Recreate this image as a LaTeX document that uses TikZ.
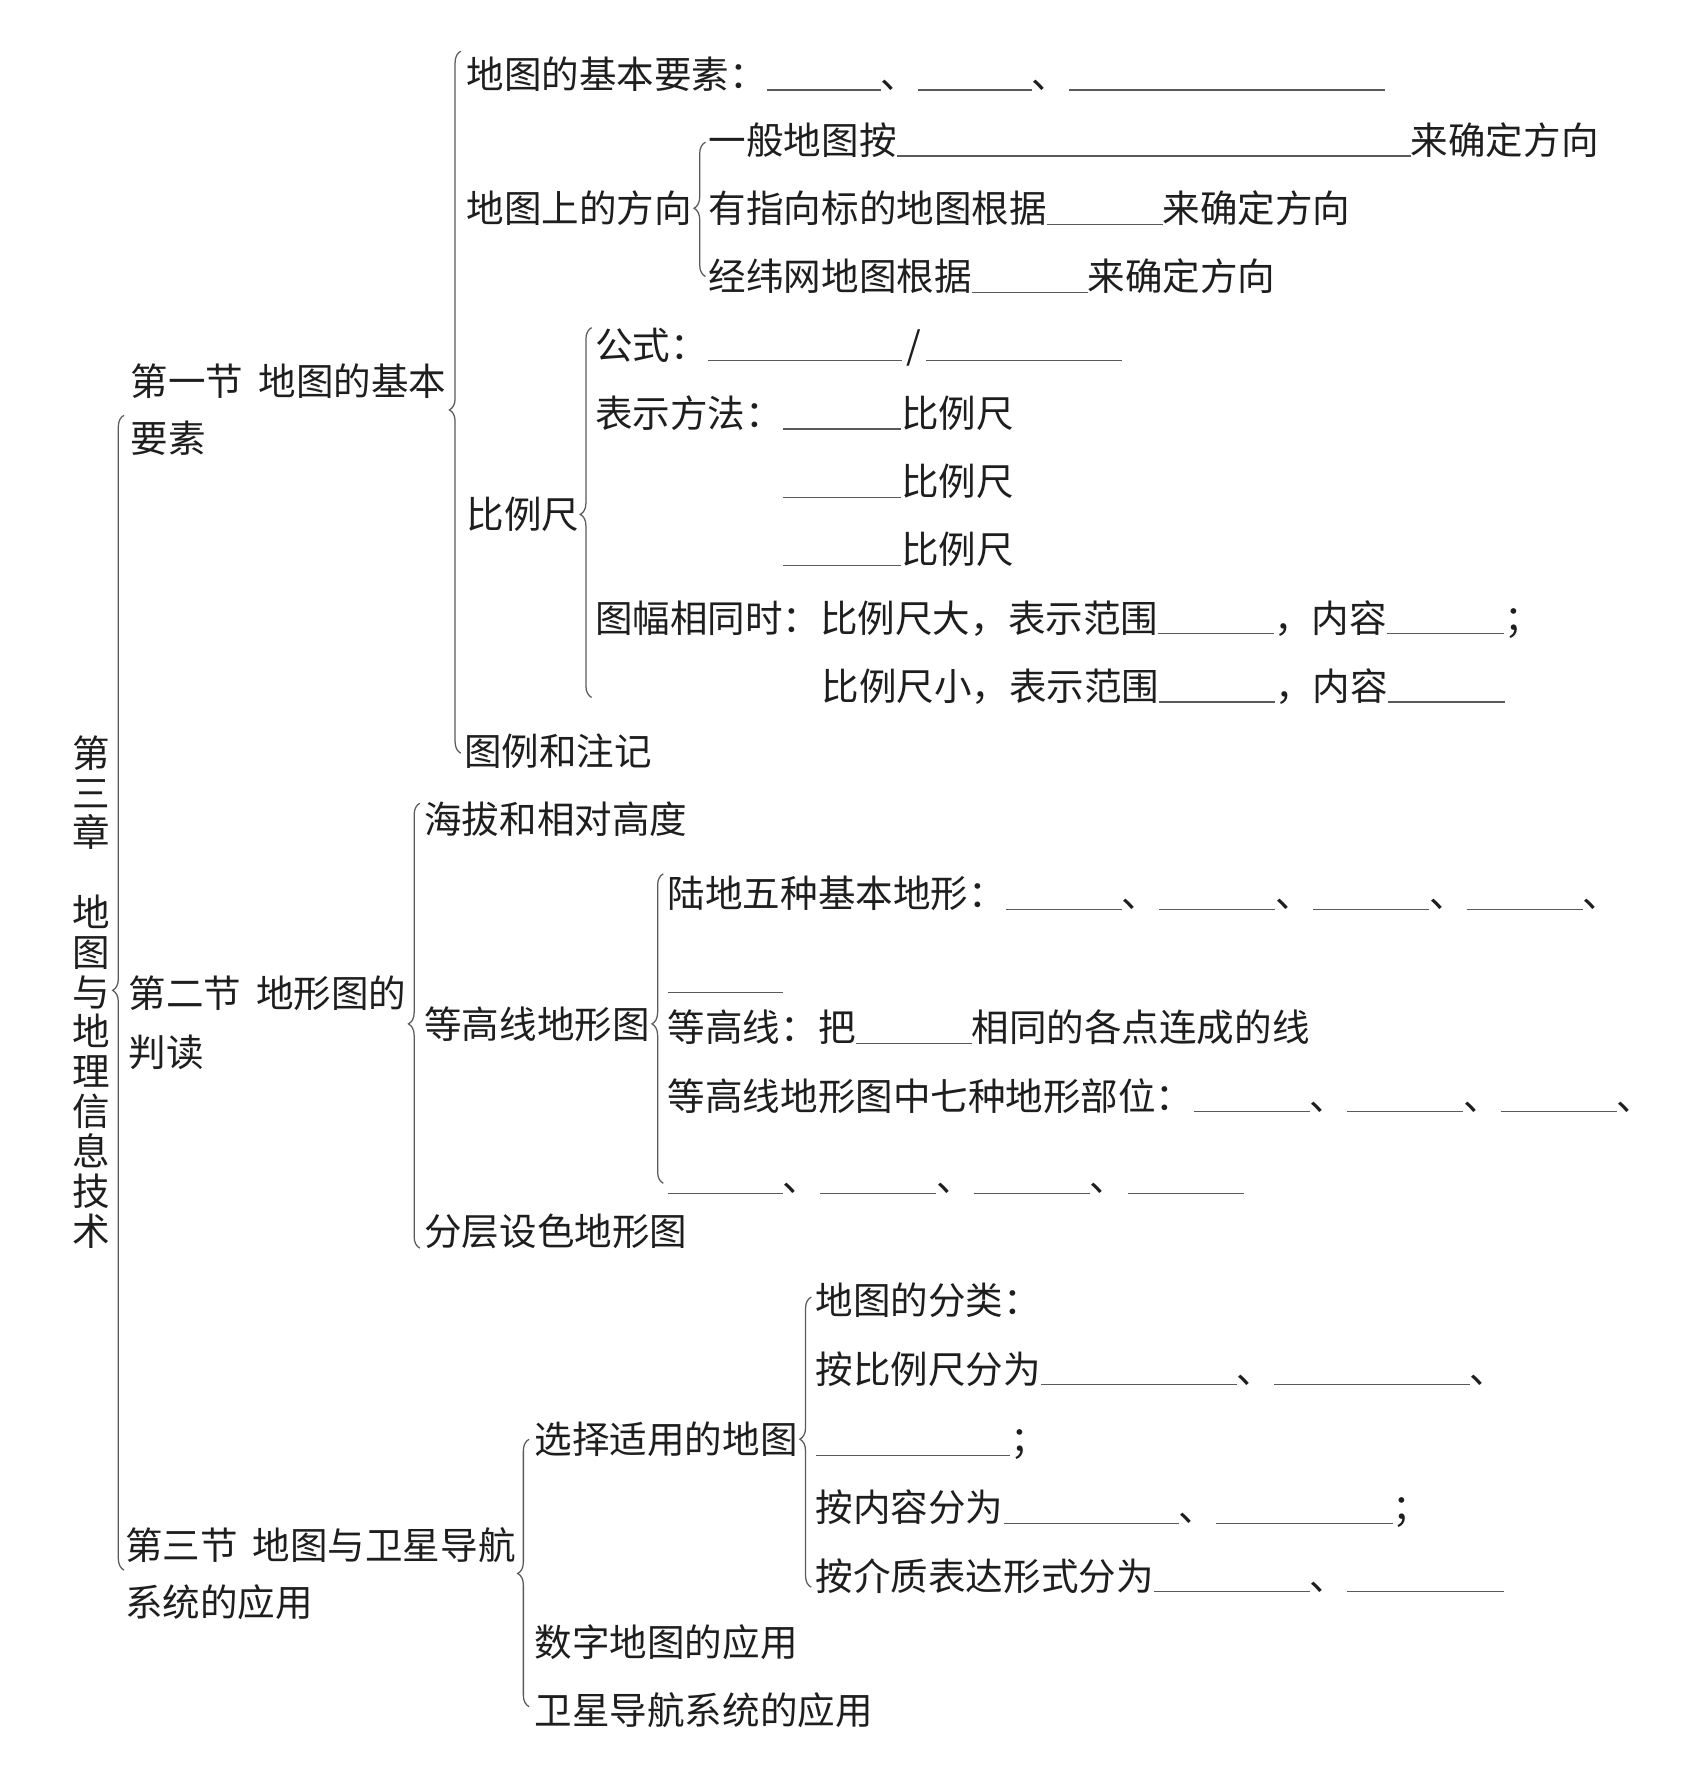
\documentclass[tikz,border=0pt]{standalone}
\usepackage{fontspec}
\setmainfont{Noto Sans CJK SC}
\usetikzlibrary{decorations.pathreplacing}
\definecolor{ink}{HTML}{1E1E1E}
\definecolor{lin}{HTML}{5A5A5A}
\newcommand\fs{\fontsize{16.5pt}{19pt}\selectfont}
\newcommand\blk[1]{\textcolor{lin}{\rule[-1pt]{\dimexpr #1pt/2\relax}{0.55pt}}}
\begin{document}
\begin{tikzpicture}[x=0.5pt,y=-0.5pt,
  lbl/.style={anchor=west, inner sep=0, outer sep=0, text height=0.88em, text depth=0.12em, font=\fs, text=ink, yshift=-2.5pt},
  brc/.style={draw=lin, line width=0.55pt, decorate, decoration={brace, amplitude=5pt, aspect=#1}},
]
\fill[white] (0,0) rectangle (1501,1568);
\path[use as bounding box] (0,0) rectangle (1501,1568);

% chapter title (vertical)
\node[anchor=north, align=center, inner sep=0, font=\fontsize{16.5pt}{17.5pt}\selectfont, text=ink] (ch) at (80,646)
  {第\\三\\章\\[17.5pt]地\\图\\与\\地\\理\\信\\息\\技\\术};

% sections
\node[lbl] (s1a) at (115,335) {第一节\hspace{0.4em}地图的基本};
\node[lbl] (s1b) at (115,385) {要素};
\node[lbl] (s2a) at (113,873) {第二节\hspace{0.4em}地形图的};
\node[lbl] (s2b) at (113,925) {判读};
\node[lbl] (s3a) at (110,1358) {第三节\hspace{0.4em}地图与卫星导航};
\node[lbl] (s3b) at (110,1408) {系统的应用};

% section 1
\node[lbl] (e1) at (410,65) {地图的基本要素：\blk{100}、\blk{100}、\blk{277}};
\node[lbl] (dir) at (410,183) {地图上的方向};
\node[lbl] (d1) at (623,123) {一般地图按\blk{452}来确定方向};
\node[lbl] (d2) at (623,183) {有指向标的地图根据\blk{102}来确定方向};
\node[lbl] (d3) at (623,243) {经纬网地图根据\blk{102}来确定方向};
\node[lbl] (sc) at (410,452) {比例尺};
\node[lbl] (f1) at (523,303) {公式：\blk{171}\hspace{2pt}/\hspace{2pt}\blk{172}};
\node[lbl] (f2) at (523,363) {表示方法：\blk{104}比例尺};
\node[lbl] (f3) at (688,423) {\blk{104}比例尺};
\node[lbl] (f4) at (688,483) {\blk{104}比例尺};
\node[lbl] (f5) at (523,543) {图幅相同时：比例尺大，表示范围\blk{102}，内容\blk{103}；};
\node[lbl] (f6) at (722,603) {比例尺小，表示范围\blk{102}，内容\blk{103}};
\node[lbl] (leg) at (408,660) {图例和注记};

% section 2
\node[lbl] (h1) at (373,720) {海拔和相对高度};
\node[lbl] (ct) at (373,900) {等高线地形图};
\node[lbl] (c1) at (587,785) {陆地五种基本地形：\blk{102}、\blk{102}、\blk{102}、\blk{102}、};
\node[lbl] (c1b) at (587,858) {\blk{101}};
\node[lbl] (c2) at (587,903) {等高线：把\blk{102}相同的各点连成的线};
\node[lbl] (c3) at (587,963) {等高线地形图中七种地形部位：\blk{102}、\blk{102}、\blk{102}、};
\node[lbl] (c3b) at (587,1035) {\blk{101}、\blk{102}、\blk{102}、\blk{102}};
\node[lbl] (h3) at (373,1082) {分层设色地形图};

% section 3
\node[lbl] (sel) at (470,1265) {选择适用的地图};
\node[lbl] (m1) at (717,1143) {地图的分类：};
\node[lbl] (m2) at (717,1203) {按比例尺分为\blk{172}、\blk{172}、};
\node[lbl] (m3) at (717,1265) {\blk{171}；};
\node[lbl] (m4) at (717,1325) {按内容分为\blk{154}、\blk{155}；};
\node[lbl] (m5) at (717,1385) {按介质表达形式分为\blk{137}、\blk{138}};
\node[lbl] (dig) at (470,1443) {数字地图的应用};
\node[lbl] (gps) at (470,1503) {卫星导航系统的应用};

% braces
\coordinate (b0t) at (109,365);  \coordinate (b0b) at (109,1380);
\draw[brc=0.502] (b0b) -- (b0t);
\coordinate (b1t) at (405,45);   \coordinate (b1b) at (405,662);
\draw[brc=0.489] (b1b) -- (b1t);
\coordinate (b2t) at (620,125);  \coordinate (b2b) at (620,243);
\draw[brc=0.508] (b2b) -- (b2t);
\coordinate (b3t) at (520,288);  \coordinate (b3b) at (520,613);
\draw[brc=0.495] (b3b) -- (b3t);
\coordinate (b4t) at (369,706);  \coordinate (b4b) at (369,1097);
\draw[brc=0.504] (b4b) -- (b4t);
\coordinate (b5t) at (583,768);  \coordinate (b5b) at (583,1040);
\draw[brc=0.515] (b5b) -- (b5t);
\coordinate (b6t) at (465,1265); \coordinate (b6b) at (465,1500);
\draw[brc=0.498] (b6b) -- (b6t);
\coordinate (b7t) at (713,1140); \coordinate (b7b) at (713,1395);
\draw[brc=0.510] (b7b) -- (b7t);
\end{tikzpicture}
\end{document}
